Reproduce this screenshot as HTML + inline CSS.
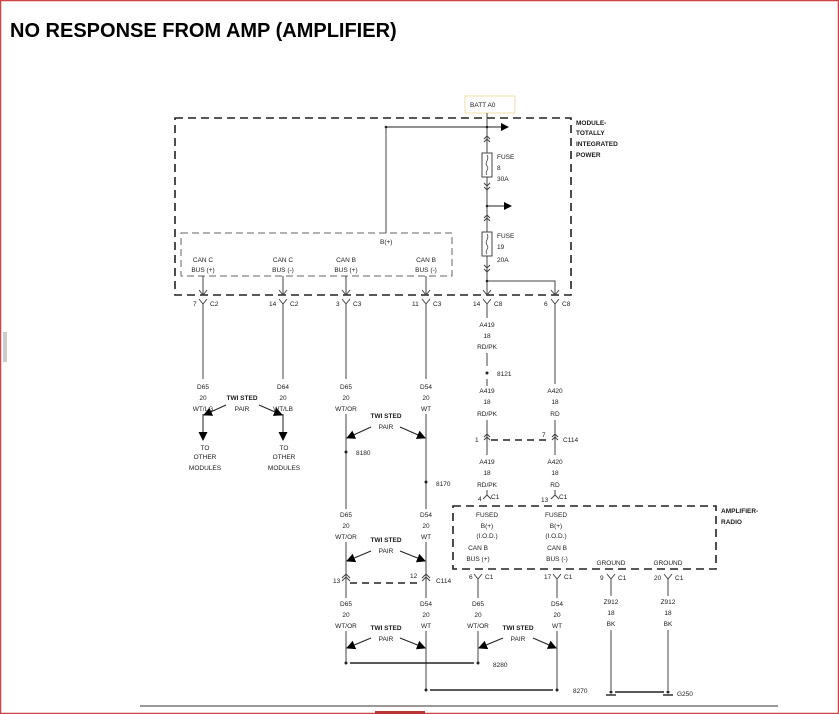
<!DOCTYPE html>
<html><head><meta charset="utf-8"><style>
html,body{margin:0;padding:0;background:#fff;}
svg{display:block;}
text{font-family:"Liberation Sans",sans-serif;font-size:6.5px;fill:#1a1a1a;}
.t{font-size:20px;font-weight:bold;fill:#000;}
.b{font-weight:bold;}
</style></head><body>
<svg width="839" height="714" viewBox="0 0 839 714" xmlns="http://www.w3.org/2000/svg">
<defs>
<marker id="ah" markerWidth="8" markerHeight="8" refX="7" refY="4" orient="auto" markerUnits="userSpaceOnUse"><path d="M0,0 L8,4 L0,8 z" fill="#000"/></marker>
<marker id="ah2" markerWidth="9" markerHeight="9" refX="8" refY="4.5" orient="auto" markerUnits="userSpaceOnUse"><path d="M0,0 L9,4.5 L0,9 z" fill="#000"/></marker>
</defs>
<rect x="0.5" y="0.5" width="838" height="713" fill="none" stroke="#c44" stroke-width="1.5"/>
<rect x="375" y="711" width="50" height="3" fill="#b33"/>
<line x1="140" y1="706" x2="778" y2="706" stroke="#333" stroke-width="1"/>
<line x1="4" y1="332" x2="4" y2="362" stroke="#999"/><line x1="6" y1="332" x2="6" y2="362" stroke="#999"/>
<text class="t" x="10" y="37">NO RESPONSE FROM AMP (AMPLIFIER)</text>

<rect x="465" y="96" width="50" height="17" fill="#fff" stroke="#eedfa8"/>
<text x="470" y="107">BATT A0</text>

<g fill="none" stroke="#222" stroke-width="1.6" stroke-dasharray="8,5">
<rect x="175" y="118" width="396" height="177"/>
<rect x="453" y="506" width="263" height="63"/>
</g>
<rect x="181" y="233" width="271" height="43" fill="none" stroke="#666" stroke-width="1" stroke-dasharray="7,4"/>
<g fill="none" stroke="#222" stroke-width="1.5" stroke-dasharray="7,5">
<line x1="350" y1="583" x2="422" y2="583"/>
<line x1="491" y1="440" x2="551" y2="440"/>
</g>

<g stroke="#444" stroke-width="1" fill="none">
<line x1="487" y1="113" x2="487" y2="295"/>
<line x1="386" y1="127" x2="508" y2="127" stroke="#222" marker-end="url(#ah)"/>
<line x1="386" y1="127" x2="386" y2="233"/>
<line x1="487" y1="206" x2="511" y2="206" stroke="#222" marker-end="url(#ah)"/>
<polyline points="487,281 555,281 555,295"/>
<line x1="203" y1="276" x2="203" y2="295"/><line x1="283" y1="276" x2="283" y2="295"/>
<line x1="346" y1="276" x2="346" y2="295"/><line x1="426" y1="276" x2="426" y2="295"/>
<polyline points="199,290 203,295 207,290"/><polyline points="279,290 283,295 287,290"/>
<polyline points="342,290 346,295 350,290"/><polyline points="422,290 426,295 430,290"/>
<polyline points="483,290 487,295 491,290"/><polyline points="551,290 555,295 559,290"/>
<polyline points="484,139 487,136 490,139"/><polyline points="484,142 487,139 490,142"/>
<polyline points="484,183 487,186 490,183"/><polyline points="484,187 487,190 490,187"/>
<polyline points="484,218 487,215 490,218"/><polyline points="484,221 487,218 490,221"/>
<polyline points="484,265 487,268 490,265"/><polyline points="484,269 487,272 490,269"/>
<polyline points="199,299 203,304 207,299"/><polyline points="279,299 283,304 287,299"/>
<polyline points="342,299 346,304 350,299"/><polyline points="422,299 426,304 430,299"/>
<polyline points="483,299 487,304 491,299"/><polyline points="551,299 555,304 559,299"/>
<line x1="203" y1="304" x2="203" y2="379"/><line x1="283" y1="304" x2="283" y2="379"/>
<line x1="346" y1="304" x2="346" y2="379"/><line x1="426" y1="304" x2="426" y2="379"/>
<line x1="487" y1="304" x2="487" y2="318"/><line x1="555" y1="304" x2="555" y2="384"/>
<line x1="203" y1="414" x2="203" y2="440" stroke="#222" marker-end="url(#ah2)"/>
<line x1="283" y1="414" x2="283" y2="440" stroke="#222" marker-end="url(#ah2)"/>
<line x1="226" y1="405" x2="204" y2="415" stroke="#222" marker-end="url(#ah2)"/>
<line x1="259" y1="405" x2="282" y2="415" stroke="#222" marker-end="url(#ah2)"/>
<line x1="346" y1="414" x2="346" y2="509"/><line x1="426" y1="414" x2="426" y2="509"/>
<line x1="371" y1="427" x2="347" y2="438" stroke="#222" marker-end="url(#ah2)"/>
<line x1="400" y1="427" x2="425" y2="438" stroke="#222" marker-end="url(#ah2)"/>
<line x1="346" y1="542" x2="346" y2="598"/><line x1="426" y1="542" x2="426" y2="598"/>
<line x1="371" y1="551" x2="347" y2="561" stroke="#222" marker-end="url(#ah2)"/>
<line x1="400" y1="551" x2="425" y2="561" stroke="#222" marker-end="url(#ah2)"/>
<polyline points="342,578 346,574 350,578"/><polyline points="342,581 346,577 350,581"/>
<polyline points="422,578 426,574 430,578"/><polyline points="422,581 426,577 430,581"/>
<line x1="346" y1="631" x2="346" y2="663"/><line x1="426" y1="631" x2="426" y2="690"/>
<line x1="371" y1="638" x2="347" y2="648" stroke="#222" marker-end="url(#ah2)"/>
<line x1="400" y1="638" x2="425" y2="648" stroke="#222" marker-end="url(#ah2)"/>
<polyline points="474,574 478,579 482,574"/><polyline points="553,574 557,579 561,574"/>
<polyline points="607,574 611,579 615,574"/><polyline points="664,574 668,579 672,574"/>
<line x1="478" y1="579" x2="478" y2="598"/><line x1="557" y1="579" x2="557" y2="598"/>
<line x1="611" y1="579" x2="611" y2="596"/><line x1="668" y1="579" x2="668" y2="596"/>
<line x1="478" y1="631" x2="478" y2="663"/><line x1="557" y1="631" x2="557" y2="690"/>
<line x1="503" y1="638" x2="479" y2="648" stroke="#222" marker-end="url(#ah2)"/>
<line x1="533" y1="638" x2="556" y2="648" stroke="#222" marker-end="url(#ah2)"/>
<line x1="611" y1="630" x2="611" y2="690"/><line x1="668" y1="630" x2="668" y2="690"/>
<line x1="487" y1="353" x2="487" y2="366"/><line x1="487" y1="379" x2="487" y2="386"/>
<line x1="487" y1="420" x2="487" y2="455"/><line x1="555" y1="420" x2="555" y2="455"/>
<polyline points="484,437 487,434 490,437"/><polyline points="484,440 487,437 490,440"/>
<polyline points="552,437 555,434 558,437"/><polyline points="552,440 555,437 558,440"/>
<line x1="487" y1="490" x2="487" y2="495"/><line x1="555" y1="490" x2="555" y2="495"/>
<polyline points="483,499 487,495 491,499"/><polyline points="551,499 555,495 559,499"/>
</g>
<g stroke="#222" stroke-width="1.4">
<line x1="350" y1="663" x2="474" y2="663"/>
<line x1="430" y1="690" x2="553" y2="690"/>
<line x1="615" y1="692" x2="664" y2="692"/>
<line x1="606" y1="695" x2="616" y2="695"/><line x1="663" y1="695" x2="673" y2="695"/>
</g>
<g fill="#222">
<circle cx="386" cy="127" r="1.3"/><circle cx="487" cy="127" r="1.3"/><circle cx="487" cy="206" r="1.3"/><circle cx="487" cy="281" r="1.3"/>
<circle cx="487" cy="373" r="1.5"/><circle cx="346" cy="452" r="1.5"/><circle cx="426" cy="482" r="1.5"/>
<circle cx="346" cy="663" r="1.5"/><circle cx="478" cy="663" r="1.5"/><circle cx="426" cy="690" r="1.5"/><circle cx="557" cy="690" r="1.5"/>
<circle cx="611" cy="692" r="1.5"/><circle cx="668" cy="692" r="1.5"/>
</g>
<g fill="#fff" stroke="#444">
<rect x="482" y="153" width="10" height="24"/><rect x="482" y="232" width="10" height="24"/>
</g>
<g fill="none" stroke="#444" stroke-width="0.8">
<path d="M487,155 c3,4 -3,8 0,11 c3,3 -3,6 0,9"/>
<path d="M487,234 c3,4 -3,8 0,11 c3,3 -3,6 0,9"/>
</g>

<g class="b">
<text x="576" y="125">MODULE-</text><text x="576" y="135">TOTALLY</text><text x="576" y="146">INTEGRATED</text><text x="576" y="157">POWER</text>
<text x="721" y="513">AMPLIFIER-</text><text x="721" y="524">RADIO</text>
</g>
<text x="497" y="159">FUSE</text><text x="497" y="170">8</text><text x="497" y="181">30A</text>
<text x="497" y="238">FUSE</text><text x="497" y="249">19</text><text x="497" y="262">20A</text>
<text x="380" y="244">B(+)</text>
<g text-anchor="middle">
<text x="203" y="262">CAN C</text><text x="203" y="272">BUS (+)</text>
<text x="283" y="262">CAN C</text><text x="283" y="272">BUS (-)</text>
<text x="346" y="262">CAN B</text><text x="346" y="272">BUS (+)</text>
<text x="426" y="262">CAN B</text><text x="426" y="272">BUS (-)</text>
</g>
<text x="193" y="306">7</text><text x="210" y="306">C2</text>
<text x="269" y="306">14</text><text x="290" y="306">C2</text>
<text x="336" y="306">3</text><text x="353" y="306">C3</text>
<text x="412" y="306">11</text><text x="433" y="306">C3</text>
<text x="473" y="306">14</text><text x="494" y="306">C8</text>
<text x="544" y="306">6</text><text x="562" y="306">C8</text>
<g text-anchor="middle">
<text x="203" y="389">D65</text><text x="203" y="400">20</text><text x="203" y="411">WT/LG</text>
<text x="283" y="389">D64</text><text x="283" y="400">20</text><text x="283" y="411">WT/LB</text>
<text x="346" y="389">D65</text><text x="346" y="400">20</text><text x="346" y="411">WT/OR</text>
<text x="426" y="389">D54</text><text x="426" y="400">20</text><text x="426" y="411">WT</text>
<text x="242" y="400" class="b">TWI STED</text><text x="242" y="411">PAIR</text>
<text x="205" y="450">TO</text><text x="205" y="459">OTHER</text><text x="205" y="470">MODULES</text>
<text x="284" y="450">TO</text><text x="284" y="459">OTHER</text><text x="284" y="470">MODULES</text>
<text x="386" y="418" class="b">TWI STED</text><text x="386" y="429">PAIR</text>
<text x="346" y="517">D65</text><text x="346" y="528">20</text><text x="346" y="539">WT/OR</text>
<text x="426" y="517">D54</text><text x="426" y="528">20</text><text x="426" y="539">WT</text>
<text x="386" y="542" class="b">TWI STED</text><text x="386" y="553">PAIR</text>
<text x="346" y="606">D65</text><text x="346" y="617">20</text><text x="346" y="628">WT/OR</text>
<text x="426" y="606">D54</text><text x="426" y="617">20</text><text x="426" y="628">WT</text>
<text x="386" y="630" class="b">TWI STED</text><text x="386" y="641">PAIR</text>
<text x="478" y="606">D65</text><text x="478" y="617">20</text><text x="478" y="628">WT/OR</text>
<text x="557" y="606">D54</text><text x="557" y="617">20</text><text x="557" y="628">WT</text>
<text x="518" y="630" class="b">TWI STED</text><text x="518" y="641">PAIR</text>
<text x="611" y="604">Z912</text><text x="611" y="615">18</text><text x="611" y="626">BK</text>
<text x="668" y="604">Z912</text><text x="668" y="615">18</text><text x="668" y="626">BK</text>
<text x="487" y="327">A419</text><text x="487" y="338">18</text><text x="487" y="349">RD/PK</text>
<text x="487" y="393">A419</text><text x="487" y="404">18</text><text x="487" y="416">RD/PK</text>
<text x="555" y="393">A420</text><text x="555" y="404">18</text><text x="555" y="416">RD</text>
<text x="487" y="464">A419</text><text x="487" y="475">18</text><text x="487" y="487">RD/PK</text>
<text x="555" y="464">A420</text><text x="555" y="475">18</text><text x="555" y="487">RD</text>
<text x="487" y="517">FUSED</text><text x="487" y="528">B(+)</text><text x="487" y="538">(I.O.D.)</text>
<text x="556" y="517">FUSED</text><text x="556" y="528">B(+)</text><text x="556" y="538">(I.O.D.)</text>
<text x="478" y="550">CAN B</text><text x="478" y="561">BUS (+)</text>
<text x="557" y="550">CAN B</text><text x="557" y="561">BUS (-)</text>
<text x="611" y="565">GROUND</text><text x="668" y="565">GROUND</text>
</g>
<text x="356" y="455">8180</text><text x="436" y="486">8170</text><text x="497" y="376">8121</text>
<text x="493" y="667">8280</text><text x="573" y="693">8270</text><text x="677" y="696">G250</text>
<text x="333" y="583">13</text><text x="410" y="578">12</text><text x="436" y="583">C114</text>
<text x="475" y="442">1</text><text x="542" y="437">7</text><text x="563" y="442">C114</text>
<text x="478" y="501">4</text><text x="491" y="499">C1</text>
<text x="541" y="502">13</text><text x="559" y="499">C1</text>
<text x="469" y="579">6</text><text x="485" y="579">C1</text>
<text x="544" y="579">17</text><text x="564" y="579">C1</text>
<text x="600" y="580">9</text><text x="618" y="580">C1</text>
<text x="654" y="580">20</text><text x="675" y="580">C1</text>
</svg>
</body></html>
